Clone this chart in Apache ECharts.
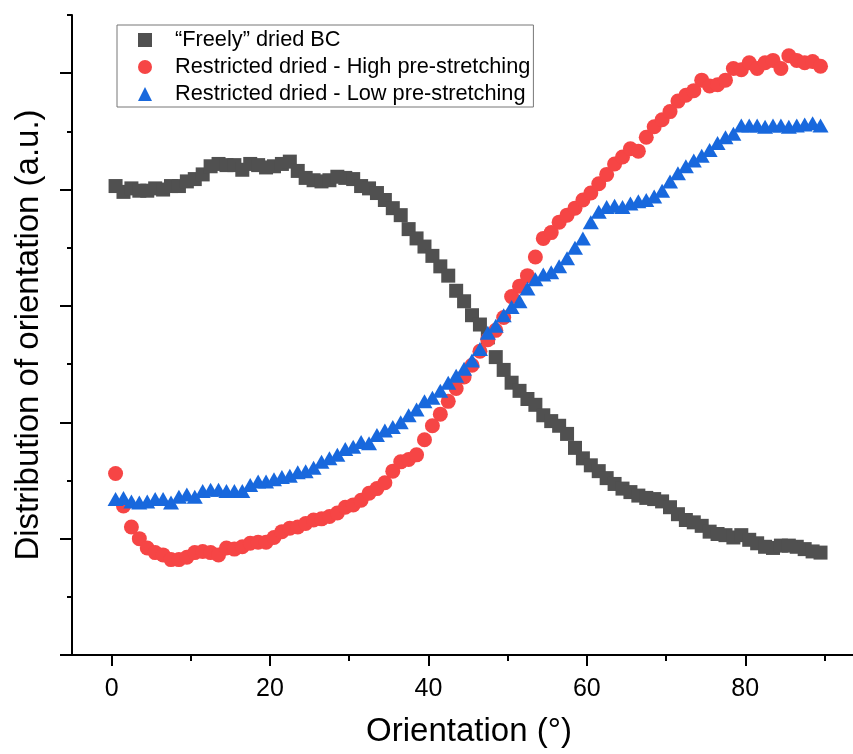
<!DOCTYPE html>
<html>
<head>
<meta charset="utf-8">
<title>Distribution of orientation</title>
<script src="https://cdn.jsdelivr.net/npm/echarts@6/dist/echarts.min.js"></script>
<style>
  html, body { margin: 0; padding: 0; background: #fff; }
  #chart { width: 853px; height: 754px; }
</style>
</head>
<body>
<div id="chart"></div>
<script>
  // orientation (deg), one point per degree
  const angles = [
    0.5, 1.5, 2.5, 3.5, 4.5, 5.5, 6.5, 7.5, 8.5, 9.5,
    10.5, 11.5, 12.5, 13.5, 14.5, 15.5, 16.5, 17.5, 18.5, 19.5,
    20.5, 21.5, 22.5, 23.5, 24.5, 25.5, 26.5, 27.5, 28.5, 29.5,
    30.5, 31.5, 32.5, 33.5, 34.5, 35.5, 36.5, 37.5, 38.5, 39.5,
    40.5, 41.5, 42.5, 43.5, 44.5, 45.5, 46.5, 47.5, 48.5, 49.5,
    50.5, 51.5, 52.5, 53.5, 54.5, 55.5, 56.5, 57.5, 58.5, 59.5,
    60.5, 61.5, 62.5, 63.5, 64.5, 65.5, 66.5, 67.5, 68.5, 69.5,
    70.5, 71.5, 72.5, 73.5, 74.5, 75.5, 76.5, 77.5, 78.5, 79.5,
    80.5, 81.5, 82.5, 83.5, 84.5, 85.5, 86.5, 87.5, 88.5, 89.5
  ];

  const freelyDried = [
    4.03, 3.98, 4.01, 3.99, 3.99, 4.01, 4.00, 4.03, 4.03, 4.07,
    4.09, 4.13, 4.20, 4.22, 4.21, 4.21, 4.17, 4.22, 4.21, 4.19,
    4.20, 4.22, 4.24, 4.16, 4.10, 4.08, 4.07, 4.08, 4.11, 4.10,
    4.09, 4.03, 4.01, 3.97, 3.91, 3.84, 3.78, 3.66, 3.58, 3.51,
    3.43, 3.34, 3.26, 3.13, 3.04, 2.92, 2.84, 2.73, 2.56, 2.45,
    2.34, 2.27, 2.20, 2.15, 2.06, 2.01, 1.97, 1.90, 1.78, 1.69,
    1.63, 1.58, 1.52, 1.47, 1.43, 1.40, 1.37, 1.35, 1.34, 1.32,
    1.27, 1.21, 1.16, 1.14, 1.11, 1.06, 1.04, 1.03, 1.01, 1.03,
    0.99, 0.96, 0.93, 0.92, 0.94, 0.94, 0.93, 0.91, 0.89, 0.88
  ];

  const highStretch = [
    1.56, 1.28, 1.10, 1.00, 0.92, 0.88, 0.86, 0.82, 0.82, 0.84,
    0.88, 0.89, 0.88, 0.86, 0.92, 0.91, 0.93, 0.96, 0.97, 0.97,
    1.01, 1.06, 1.09, 1.10, 1.13, 1.16, 1.17, 1.19, 1.22, 1.27,
    1.29, 1.33, 1.39, 1.43, 1.48, 1.58, 1.66, 1.68, 1.72, 1.85,
    1.97, 2.07, 2.18, 2.29, 2.39, 2.49, 2.61, 2.71, 2.79, 2.90,
    3.08, 3.17, 3.26, 3.42, 3.58, 3.63, 3.72, 3.78, 3.84, 3.91,
    3.97, 4.05, 4.13, 4.22, 4.28, 4.35, 4.33, 4.45, 4.54, 4.60,
    4.67, 4.76, 4.81, 4.85, 4.94, 4.89, 4.90, 4.94, 5.04, 5.03,
    5.09, 5.04, 5.09, 5.11, 5.04, 5.15, 5.11, 5.09, 5.10, 5.06
  ];

  const lowStretch = [
    1.34, 1.35, 1.32, 1.31, 1.32, 1.34, 1.34, 1.31, 1.36, 1.38,
    1.36, 1.41, 1.42, 1.42, 1.41, 1.41, 1.41, 1.46, 1.49, 1.49,
    1.51, 1.53, 1.54, 1.57, 1.58, 1.61, 1.66, 1.69, 1.72, 1.77,
    1.79, 1.83, 1.82, 1.89, 1.93, 1.96, 2.00, 2.06, 2.11, 2.18,
    2.21, 2.27, 2.34, 2.40, 2.46, 2.53, 2.63, 2.77, 2.83, 2.92,
    2.99, 3.04, 3.15, 3.23, 3.27, 3.29, 3.34, 3.41, 3.50, 3.58,
    3.72, 3.81, 3.85, 3.86, 3.85, 3.88, 3.90, 3.91, 3.94, 3.99,
    4.07, 4.14, 4.20, 4.25, 4.29, 4.34, 4.40, 4.45, 4.48, 4.55,
    4.55, 4.55, 4.54, 4.55, 4.55, 4.54, 4.55, 4.56, 4.57, 4.55
  ];

  const xMajorTicks = [0, 20, 40, 60, 80];
  const xMinorTicks = [10, 30, 50, 70, 90];
  const yMajorTicks = [0, 1, 2, 3, 4, 5];
  const yMinorTicks = [0.5, 1.5, 2.5, 3.5, 4.5, 5.5];

  const seriesNames = [
    '\u201cFreely\u201d dried BC',
    'Restricted dried - High pre-stretching',
    'Restricted dried - Low pre-stretching'
  ];

  const FONT = '"Liberation Sans", Arial, sans-serif';
  const TICK_STYLE = { color: '#000', width: 2 };

  function pairs(ys) {
    return angles.map((a, i) => [a, ys[i]]);
  }

  const chart = echarts.init(document.getElementById('chart'), null, { renderer: 'canvas' });

  const option = {
    animation: false,
    backgroundColor: '#fff',
    grid: { left: 72, top: 15, right: 0, bottom: 99 },
    legend: {
      orient: 'vertical',
      left: 117,
      top: 25,
      padding: [4, 3, 2, 21],
      itemGap: 5,
      itemWidth: 14,
      itemHeight: 14,
      borderColor: '#777',
      borderWidth: 1,
      textStyle: { fontFamily: FONT, fontSize: 21.75, lineHeight: 22, color: '#000', padding: [0, 0, 0, 18] },
      data: seriesNames
    },
    xAxis: [{
      type: 'value',
      min: -5,
      max: 93.6,
      position: 'bottom',
      axisLine: { onZero: false, lineStyle: TICK_STYLE },
      axisTick: { customValues: xMajorTicks, length: 11, lineStyle: TICK_STYLE },
      axisLabel: { customValues: xMajorTicks, fontFamily: FONT, fontSize: 25, color: '#000', margin: 22 },
      splitLine: { show: false },
      name: 'Orientation (\u00b0)',
      nameLocation: 'middle',
      nameGap: 60,
      nameTextStyle: { fontFamily: FONT, fontSize: 33, color: '#000', padding: [0, 0, 0, 13] }
    }, {
      // minor ticks only
      type: 'value',
      min: -5,
      max: 93.6,
      position: 'bottom',
      axisLine: { show: false, onZero: false },
      axisTick: { customValues: xMinorTicks, length: 6, lineStyle: TICK_STYLE },
      axisLabel: { show: false },
      splitLine: { show: false }
    }],
    yAxis: [{
      type: 'value',
      min: 0,
      max: 5.5,
      position: 'left',
      axisLine: { onZero: false, lineStyle: TICK_STYLE },
      axisTick: { customValues: yMajorTicks, length: 12, lineStyle: TICK_STYLE },
      axisLabel: { show: false },
      splitLine: { show: false },
      name: 'Distribution of orientation (a.u.)',
      nameLocation: 'middle',
      nameGap: 27,
      nameTextStyle: { fontFamily: FONT, fontSize: 33, color: '#000' }
    }, {
      type: 'value',
      min: 0,
      max: 5.5,
      position: 'left',
      offset: 0,
      axisLine: { show: false, onZero: false },
      axisTick: { customValues: yMinorTicks, length: 5, lineStyle: TICK_STYLE },
      axisLabel: { show: false },
      splitLine: { show: false }
    }],
    series: [{
      name: seriesNames[0],
      type: 'scatter',
      symbol: 'rect',
      symbolSize: 14,
      itemStyle: { color: '#505050', opacity: 1 },
      data: pairs(freelyDried)
    }, {
      name: seriesNames[1],
      type: 'scatter',
      symbol: 'circle',
      symbolSize: 15,
      itemStyle: { color: '#F64545', opacity: 1 },
      data: pairs(highStretch)
    }, {
      name: seriesNames[2],
      type: 'scatter',
      symbol: 'triangle',
      symbolSize: [16, 14],
      itemStyle: { color: '#1868DD', opacity: 1 },
      data: pairs(lowStretch)
    }]
  };

  chart.setOption(option);
</script>
</body>
</html>
